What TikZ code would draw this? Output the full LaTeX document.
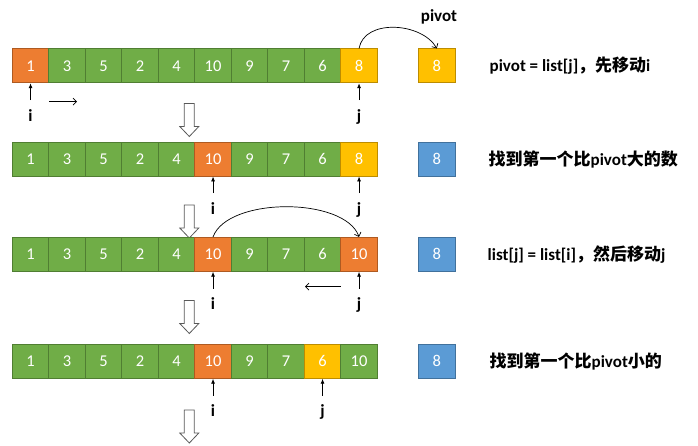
\documentclass[tikz,border=0pt]{standalone}
\usepackage{fontspec}
\setmainfont{Carlito}
\newfontfamily\cjk{Noto Sans CJK SC}
\usetikzlibrary{
    arrows.meta,
    positioning
}

\definecolor{cgreen}{HTML}{70AD47}
\definecolor{cgreenb}{HTML}{507E32}
\definecolor{corange}{HTML}{ED7D31}
\definecolor{coranb}{HTML}{AE5A21}
\definecolor{cyellow}{HTML}{FFC000}
\definecolor{cyellb}{HTML}{BC8C00}
\definecolor{cblue}{HTML}{5B9BD5}
\definecolor{cblueb}{HTML}{41719C}

\begin{document}
\begin{tikzpicture}[x=1pt,y=-1pt,
    cell/.style={draw, line width=0.8pt, minimum width=36.5pt, minimum height=34pt,
        inner sep=0pt, text=white, font=\fontsize{16.5}{16.5}\selectfont},
    gc/.style={cell, fill=cgreen, draw=cgreenb},
    oc/.style={cell, fill=corange, draw=coranb},
    yc/.style={cell, fill=cyellow, draw=cyellb},
    bc/.style={cell, fill=cblue, draw=cblueb},
    ptr/.style={-{Latex[length=5pt,width=4pt]}, line width=0.8pt},
    mv/.style={-{Straight Barb[length=3.5pt,width=7pt]}, line width=0.7pt},
    lbl/.style={font=\fontsize{17}{17}\selectfont\bfseries, inner sep=0pt,
        text height=21pt, text depth=4pt, anchor=base},
    note/.style={font=\fontsize{17}{19}\selectfont\bfseries, inner sep=0pt},
    down/.pic={\draw[line width=0.8pt, draw=black!65, fill=white]
        (-5,0) -- (5,0) -- (5,23) -- (9.5,23) -- (0,33) -- (-9.5,23) -- (-5,23) -- cycle;}
]
\useasboundingbox (0,0) rectangle (698,445);

% Row 1: pivot = list[j]
\foreach \v/\s [count=\k] in {1/oc,3/gc,5/gc,2/gc,4/gc,10/gc,9/gc,7/gc,6/gc,8/yc}
    \node[\s] (a\k) at ({12.3+36.5*(\k-0.5)},65.8) {\v};
\node[yc] (pa) at (436.8,65.8) {8};
\node[font=\fontsize{17}{17}\selectfont\bfseries] (pv) at (439,17) {pivot};
\draw[mv] (a10.north) to[out=80,in=120] (pa.north);

\node[lbl] (i1) at ([yshift=-38pt]a1.south) {i};
\node[lbl] (j1) at ([yshift=-38pt]a10.south) {j};
\draw[ptr] (i1) -- (a1);
\draw[ptr] (j1) -- (a10);
\coordinate (m1s) at (49,101.7);
\coordinate (m1e) at (77,101.7);
\draw[mv] (m1s) -- (m1e);
\node[note, right=34pt of pa] (t1) {pivot = list[j]{\cjk ，先移动}i};

\pic at (189.3,103.5) {down};

% Row 2: i stops at the first value bigger than pivot
\foreach \v/\s [count=\k] in {1/gc,3/gc,5/gc,2/gc,4/gc,10/oc,9/gc,7/gc,6/gc,8/yc}
    \node[\s] (b\k) at ({12.3+36.5*(\k-0.5)},159) {\v};
\node[bc] (pb) at (436.8,159) {8};
\node[lbl] (i2) at ([yshift=-38pt]b6.south) {i};
\node[lbl] (j2) at ([yshift=-38pt]b10.south) {j};
\draw[ptr] (i2) -- (b6);
\draw[ptr] (j2) -- (b10);
\node[note, right=33pt of pb] (t2) {{\cjk 找到第一个比}pivot{\cjk 大的数}};

\pic at (189.3,205) {down};

% Row 3: list[j] = list[i]
\foreach \v/\s [count=\k] in {1/gc,3/gc,5/gc,2/gc,4/gc,10/oc,9/gc,7/gc,6/gc,10/oc}
    \node[\s] (c\k) at ({12.3+36.5*(\k-0.5)},254.3) {\v};
\node[bc] (pc) at (436.8,254.3) {8};
\draw[mv] (c6.north) to[out=70,in=110,looseness=0.75] (c10.north);
\node[lbl] (i3) at ([yshift=-38pt]c6.south) {i};
\node[lbl] (j3) at ([yshift=-38pt]c10.south) {j};
\draw[ptr] (i3) -- (c6);
\draw[ptr] (j3) -- (c10);
\coordinate (m3s) at (340.7,286.7);
\coordinate (m3e) at (305,286.7);
\draw[mv] (m3s) -- (m3e);
\node[note, right=32pt of pc] (t3) {list[j] = list[i]{\cjk ，然后移动}j};

\pic at (189.3,300.5) {down};

% Row 4: j stops at the first value smaller than pivot
\foreach \v/\s [count=\k] in {1/gc,3/gc,5/gc,2/gc,4/gc,10/oc,9/gc,7/gc,6/yc,10/gc}
    \node[\s] (d\k) at ({12.3+36.5*(\k-0.5)},361.3) {\v};
\node[bc] (pd) at (436.8,361.3) {8};
\node[lbl] (i4) at ([yshift=-38pt]d6.south) {i};
\node[lbl] (j4) at ([yshift=-38pt]d9.south) {j};
\draw[ptr] (i4) -- (d6);
\draw[ptr] (j4) -- (d9);
\node[note, right=34pt of pd] (t4) {{\cjk 找到第一个比}pivot{\cjk 小的}};

\pic at (189.3,410) {down};

\end{tikzpicture}
\end{document}
